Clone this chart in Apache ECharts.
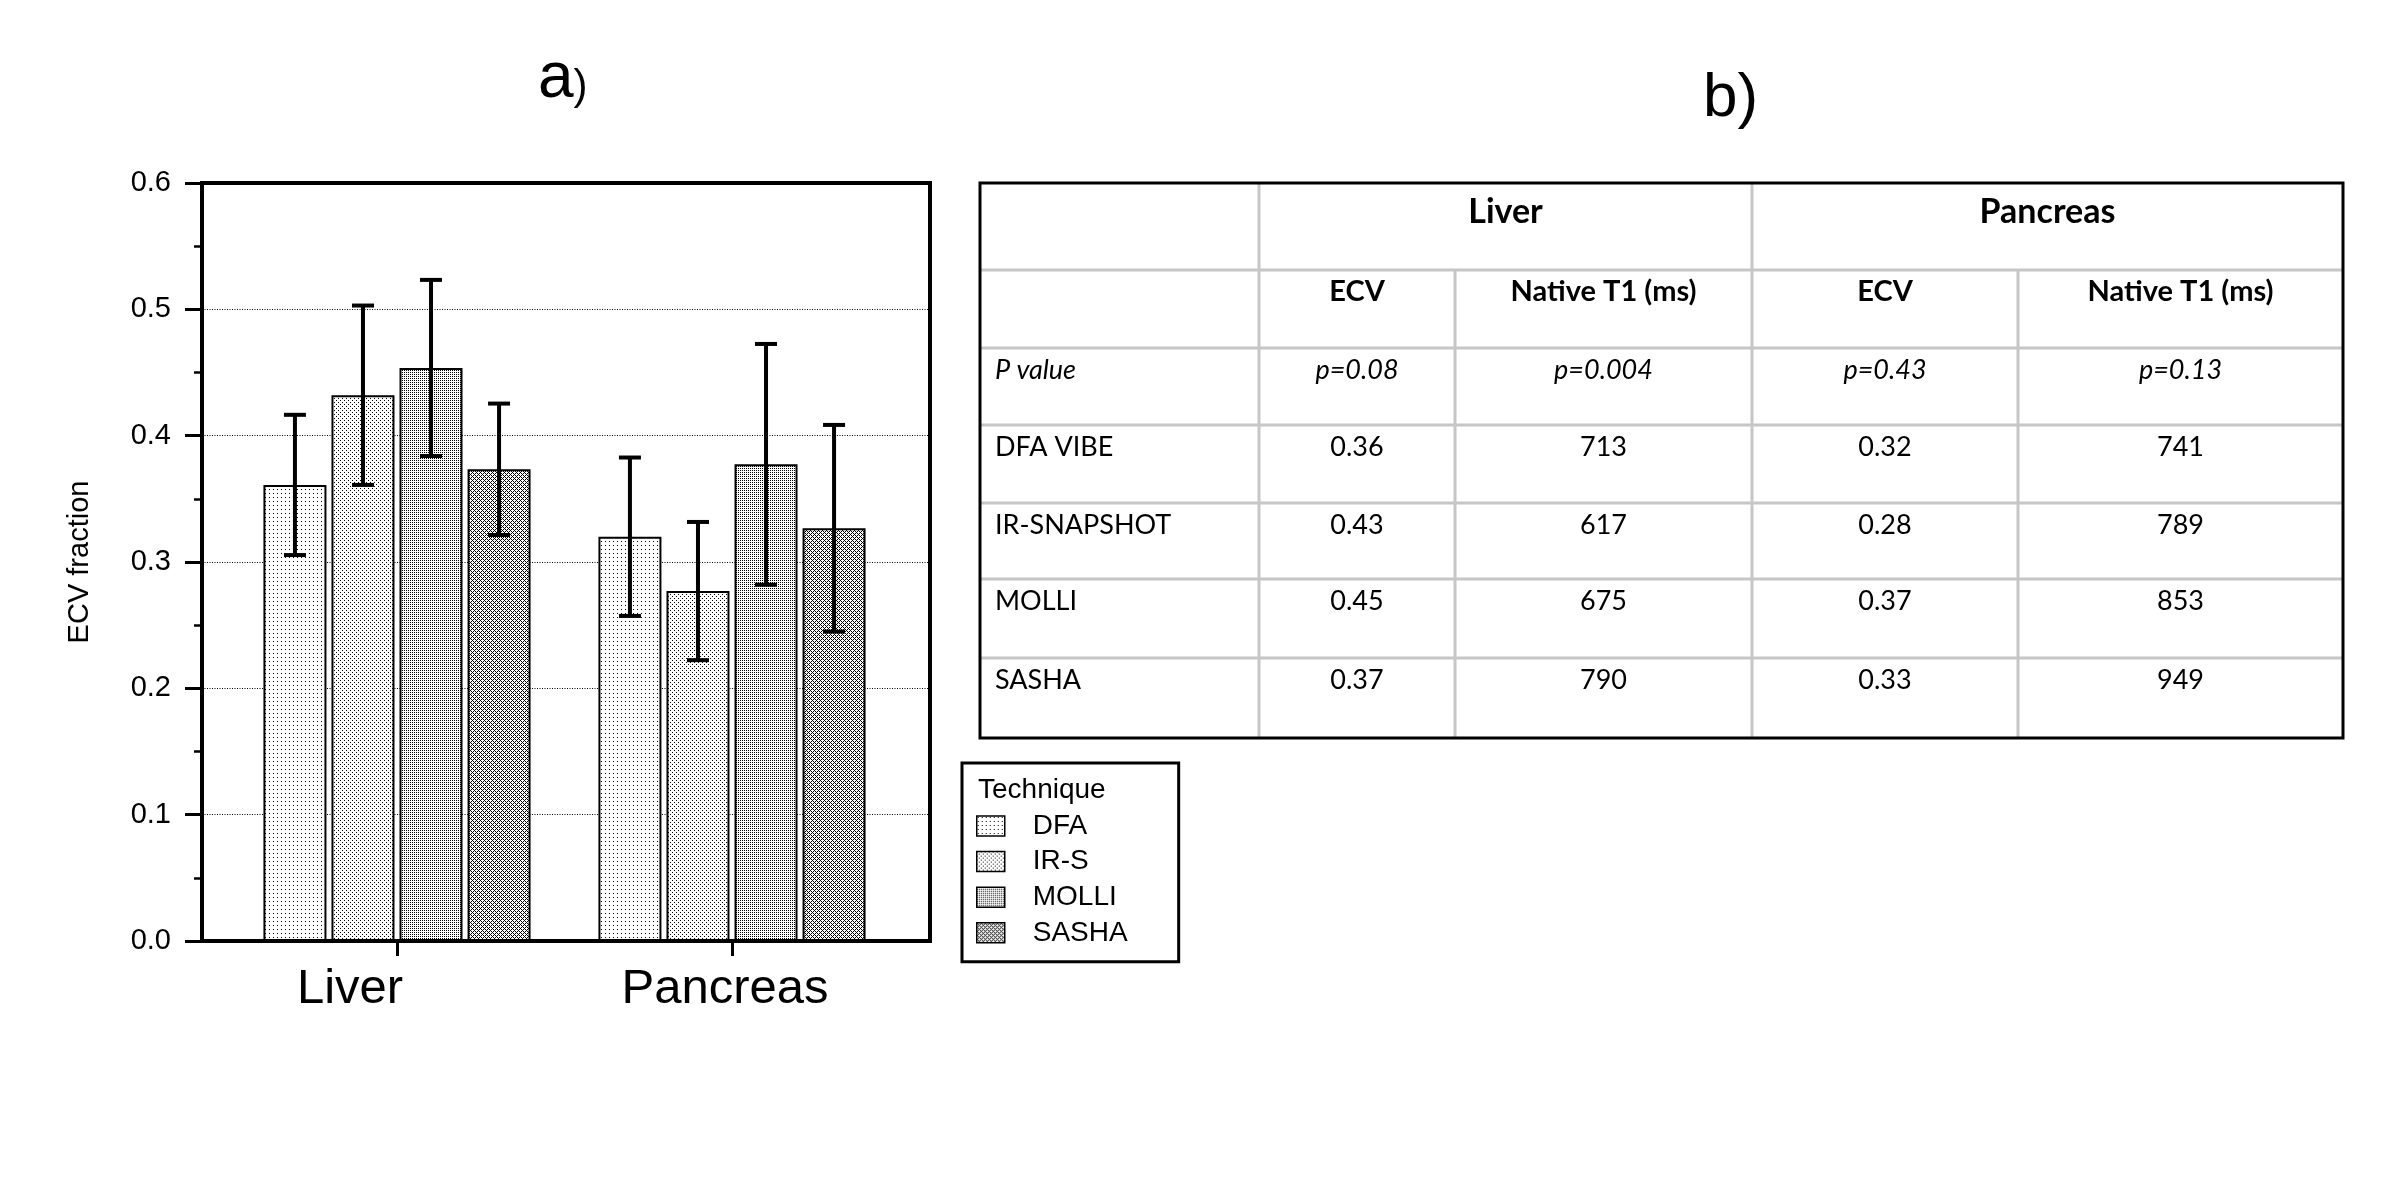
<!DOCTYPE html>
<html>
<head>
<meta charset="utf-8">
<title>ECV fraction by technique</title>
<script src="https://cdn.jsdelivr.net/npm/echarts@6/dist/echarts.min.js"></script>
<style>
  html, body { margin: 0; padding: 0; background: #fff; }
  #main { width: 2400px; height: 1200px; }
</style>
</head>
<body>
<div id="main"></div>
<script>
// ---- data ----
const categories = ['Liver', 'Pancreas'];
const techniques = ['DFA', 'IR-S', 'MOLLI', 'SASHA'];

const dfaMean = [0.361, 0.320];
const dfaErr = [0.0555, 0.0627];
const irsMean = [0.432, 0.277];
const irsErr = [0.071, 0.0547];
const molliMean = [0.4536, 0.3773];
const molliErr = [0.0697, 0.0953];
const sashaMean = [0.3734, 0.3267];
const sashaErr = [0.052, 0.0818];

// table b)
const tableOrgans = ['Liver', 'Pancreas'];
const tableMeasures = ['ECV', 'Native T1 (ms)'];
const pLabel = 'P value';
const pValues = ['p=0.08', 'p=0.004', 'p=0.43', 'p=0.13'];
const tableTechniques = ['DFA VIBE', 'IR-SNAPSHOT', 'MOLLI', 'SASHA'];
const liverEcv = ['0.36', '0.43', '0.45', '0.37'];
const liverT1 = ['713', '617', '675', '790'];
const pancreasEcv = ['0.32', '0.28', '0.37', '0.33'];
const pancreasT1 = ['741', '789', '853', '949'];

// ---- layout / style ----
const FONT = '"Liberation Sans", Arial, sans-serif';
const TFONT = 'Lato, "Open Sans", sans-serif';
const barW = 63;
const barGapRatio = 0.08;
const pitch = barW * (1 + barGapRatio);

// hatch patterns, 1px dots on white
function makePattern(size, dots) {
  const c = document.createElement('canvas');
  c.width = size;
  c.height = size;
  const ctx = c.getContext('2d');
  ctx.fillStyle = '#fff';
  ctx.fillRect(0, 0, size, size);
  ctx.fillStyle = '#000';
  dots.forEach(d => ctx.fillRect(d[0], d[1], 1, 1));
  return { image: c, repeat: 'repeat' };
}
const patterns = [
  makePattern(4, [[1, 1]]),
  makePattern(4, [[0, 0], [2, 2]]),
  makePattern(2, [[0, 0]]),
  makePattern(4, [[0, 0], [1, 1], [2, 2], [3, 3], [1, 3], [3, 1]])
];

const means = [dfaMean, irsMean, molliMean, sashaMean];
const errs = [dfaErr, irsErr, molliErr, sashaErr];

const barSeries = techniques.map((name, t) => ({
  name: name,
  type: 'bar',
  xAxisIndex: 1,
  yAxisIndex: 1,
  barWidth: barW,
  barGap: (barGapRatio * 100) + '%',
  data: means[t],
  itemStyle: {
    color: patterns[t],
    borderColor: '#000',
    borderWidth: 2
  }
}));

const errData = [];
techniques.forEach((name, t) => {
  categories.forEach((c, i) => {
    errData.push([i, means[t][i], errs[t][i], t]);
  });
});

const errSeries = {
  type: 'custom',
  xAxisIndex: 1,
  yAxisIndex: 1,
  z: 10,
  silent: true,
  encode: { x: 0, y: 1 },
  data: errData,
  renderItem: function (params, api) {
    const c = api.value(0), m = api.value(1), e = api.value(2), t = api.value(3);
    const x = api.coord([c, m])[0] + (t - 1.5) * pitch;
    const yTop = api.coord([c, m + e])[1];
    const yBot = api.coord([c, m - e])[1];
    const st = { stroke: '#000', lineWidth: 4 };
    return {
      type: 'group',
      children: [
        { type: 'line', shape: { x1: x, y1: yTop, x2: x, y2: yBot }, style: st },
        { type: 'line', shape: { x1: x - 11, y1: yTop, x2: x + 11, y2: yTop }, style: st },
        { type: 'line', shape: { x1: x - 11, y1: yBot, x2: x + 11, y2: yBot }, style: st }
      ]
    };
  }
};

// ---- table b) as graphic elements ----
const colEdges = [980, 1259, 1455, 1752, 2018, 2343];
const rowEdges = [183, 270, 348, 425, 503, 579, 658, 738];
const gridGray = '#c6c6c6';

function tLine(x1, y1, x2, y2) {
  return { type: 'line', shape: { x1, y1, x2, y2 }, style: { stroke: gridGray, lineWidth: 3 }, z: 1 };
}
function tText(text, x, y, opt) {
  return {
    type: 'text', x: x, y: y, z: 3,
    style: Object.assign({
      text: text, fill: '#000', fontFamily: TFONT, fontSize: 26,
      align: 'center', verticalAlign: 'middle'
    }, opt || {})
  };
}

const tableGraphics = [];
// horizontal lines
for (let r = 1; r < rowEdges.length - 1; r++) {
  tableGraphics.push(tLine(colEdges[0], rowEdges[r], colEdges[5], rowEdges[r]));
}
// vertical lines
tableGraphics.push(tLine(colEdges[1], rowEdges[0], colEdges[1], rowEdges[7]));
tableGraphics.push(tLine(colEdges[3], rowEdges[0], colEdges[3], rowEdges[7]));
tableGraphics.push(tLine(colEdges[2], rowEdges[1], colEdges[2], rowEdges[7]));
tableGraphics.push(tLine(colEdges[4], rowEdges[1], colEdges[4], rowEdges[7]));
// outer border
tableGraphics.push({
  type: 'rect', z: 2,
  shape: { x: colEdges[0], y: rowEdges[0], width: colEdges[5] - colEdges[0], height: rowEdges[7] - rowEdges[0] },
  style: { fill: null, stroke: '#000', lineWidth: 3 }
});

const colMid = i => (colEdges[i] + colEdges[i + 1]) / 2;
const rowText = r => rowEdges[r] + (r === 0 ? 29 : 22);

tableGraphics.push(tText(tableOrgans[0], (colEdges[1] + colEdges[3]) / 2, rowText(0), { fontWeight: 'bold', fontSize: 34 }));
tableGraphics.push(tText(tableOrgans[1], (colEdges[3] + colEdges[5]) / 2, rowText(0), { fontWeight: 'bold', fontSize: 34 }));
[1, 2, 3, 4].forEach((ci, k) => {
  tableGraphics.push(tText(tableMeasures[k % 2], colMid(ci), rowText(1), { fontWeight: 'bold', fontSize: 29 }));
});
tableGraphics.push(tText(pLabel, colEdges[0] + 15, rowText(2), { align: 'left', fontStyle: 'italic', fontSize: 27 }));
pValues.forEach((p, k) => {
  tableGraphics.push(tText(p, colMid(k + 1), rowText(2), { fontStyle: 'italic', fontSize: 27 }));
});
const tableCols = [liverEcv, liverT1, pancreasEcv, pancreasT1];
tableTechniques.forEach((name, r) => {
  tableGraphics.push(tText(name, colEdges[0] + 15, rowText(r + 3), { align: 'left', fontSize: 27 }));
  tableCols.forEach((col, k) => {
    tableGraphics.push(tText(col[r], colMid(k + 1), rowText(r + 3), { fontSize: 27 }));
  });
});

const chart = echarts.init(document.getElementById('main'));

const option = {
  backgroundColor: '#fff',
  animation: false,
  grid: [
    { left: 202, top: 183, width: 728, height: 758, show: true, borderColor: '#000', borderWidth: 4, backgroundColor: 'transparent' },
    { left: 229.5, top: 183, width: 670, height: 758 }
  ],
  xAxis: [
    { gridIndex: 0, type: 'value', min: 0, max: 1, show: false },
    {
      gridIndex: 1,
      type: 'category',
      data: categories,
      axisLine: { show: false },
      axisTick: { show: true, interval: 0, alignWithLabel: true, length: 15, lineStyle: { color: '#000', width: 3 } },
      axisLabel: {
        interval: 0,
        margin: 24,
        color: '#000',
        fontFamily: FONT,
        fontSize: 49,
        formatter: v => '{' + (v === 'Liver' ? 'l' : 'p') + '|' + v + '}',
        rich: {
          l: { fontSize: 49, fontFamily: FONT, color: '#000', padding: [0, 94, 0, 0] },
          p: { fontSize: 49, fontFamily: FONT, color: '#000', padding: [0, 14, 0, 0] }
        }
      }
    }
  ],
  yAxis: [
    {
      gridIndex: 0,
      type: 'value',
      min: 0,
      max: 0.6,
      interval: 0.1,
      name: 'ECV fraction',
      nameLocation: 'middle',
      nameGap: 108,
      nameRotate: 90,
      nameTextStyle: { fontFamily: FONT, fontSize: 29, color: '#000' },
      axisLine: { show: true, lineStyle: { color: '#000', width: 4 } },
      axisTick: { show: true, inside: false, length: 17, lineStyle: { color: '#000', width: 3 } },
      minorTick: { show: true, splitNumber: 2, length: 8, lineStyle: { color: '#000', width: 2.5 } },
      axisLabel: { margin: 31, color: '#000', fontFamily: FONT, fontSize: 29, formatter: v => v.toFixed(1) },
      splitLine: { show: true, lineStyle: { color: '#000', width: 1, type: [1, 1.5] } }
    },
    { gridIndex: 1, type: 'value', min: 0, max: 0.6, show: false, splitLine: { show: false } }
  ],
  legend: {
    data: techniques,
    orient: 'vertical',
    left: 962,
    top: 763,
    icon: 'rect',
    itemWidth: 28,
    itemHeight: 20,
    itemGap: 7.6,
    padding: [49, 51, 15, 14],
    borderColor: '#000',
    borderWidth: 3,
    selectedMode: false,
    itemStyle: { borderColor: '#000', borderWidth: 1.5 },
    textStyle: { fontFamily: FONT, fontSize: 28, color: '#000', padding: [0, 0, 0, 23] }
  },
  graphic: [
    {
      type: 'text', x: 538, y: 47.5,
      style: {
        text: '{a|a}{p|)}',
        verticalAlign: 'top',
        rich: {
          a: { fontFamily: FONT, fontSize: 64, lineHeight: 64, fill: '#000' },
          p: { fontFamily: FONT, fontSize: 42, lineHeight: 42, fill: '#000', verticalAlign: 'bottom', padding: [0, 0, 3, 0] }
        }
      }
    },
    {
      type: 'text', x: 1703, y: 98.5,
      style: { text: 'b)', fontFamily: FONT, fontSize: 62, fill: '#000', verticalAlign: 'middle' }
    },
    {
      type: 'text', x: 978, y: 790,
      style: { text: 'Technique', fontFamily: FONT, fontSize: 28, fill: '#000', verticalAlign: 'middle' }
    }
  ].concat(tableGraphics),
  series: barSeries.concat([errSeries])
};

chart.setOption(option);
</script>
</body>
</html>
